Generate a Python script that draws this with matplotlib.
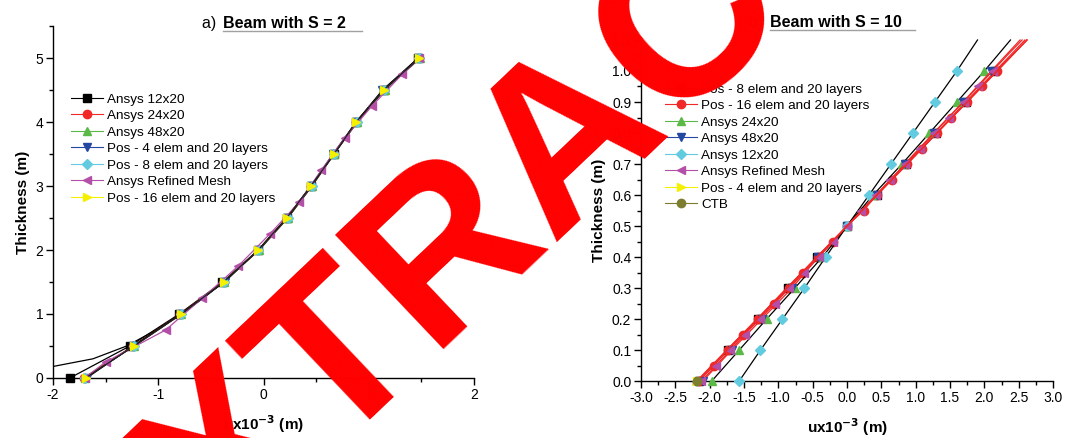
import matplotlib.pyplot as plt
from matplotlib.lines import Line2D
from matplotlib.ticker import MultipleLocator, FormatStrFormatter

plt.rcParams['font.family'] = ['Liberation Sans', 'DejaVu Sans']
plt.rcParams['axes.unicode_minus'] = False

# ---- a) beam with S = 2 ----
y_a = [0.0, 0.5, 1.0, 1.5, 2.0, 2.5, 3.0, 3.5, 4.0, 4.5, 5.0]
a_ansys12 = [-1.84, -1.27, -0.80, -0.39, -0.05, 0.22, 0.45, 0.67, 0.88, 1.14, 1.47]
a_ansys24 = [-1.71, -1.24, -0.79, -0.38, -0.05, 0.22, 0.45, 0.67, 0.88, 1.14, 1.48]
a_ansys48 = [-1.70, -1.23, -0.78, -0.38, -0.04, 0.23, 0.46, 0.67, 0.89, 1.15, 1.49]
a_pos4 = [-1.68, -1.24, -0.79, -0.37, -0.05, 0.22, 0.45, 0.66, 0.88, 1.13, 1.47]
a_pos8 = [-1.70, -1.23, -0.78, -0.38, -0.05, 0.23, 0.46, 0.67, 0.89, 1.14, 1.48]
a_pos16 = [-1.69, -1.23, -0.78, -0.38, -0.05, 0.22, 0.45, 0.67, 0.88, 1.14, 1.48]
y_a_ref = [0.0, 0.25, 0.75, 1.25, 1.75, 2.25, 2.75, 3.25, 3.75, 4.25, 4.75, 5.0]
a_refined = [-1.70, -1.50, -0.93, -0.58, -0.24, 0.06, 0.34, 0.55, 0.77, 1.03, 1.32, 1.48]
# unlabeled black curve near the bottom face
y_a_extra = [0.18, 0.30, 0.50, 0.75, 1.00, 1.25, 1.50]
a_extra = [-2.00, -1.62, -1.30, -1.02, -0.78, -0.57, -0.38]

# ---- b) beam with S = 10 ----
y_b = [0.0, 0.1, 0.2, 0.3, 0.4, 0.5, 0.6, 0.7, 0.8, 0.9, 1.0, 1.1]
y_b_fine = [0.0, 0.05, 0.1, 0.15, 0.2, 0.25, 0.3, 0.35, 0.4, 0.45, 0.5,
            0.55, 0.6, 0.65, 0.7, 0.75, 0.8, 0.85, 0.9, 0.95, 1.0, 1.05, 1.1]
b_pos8 = [-2.16, -1.73, -1.30, -0.86, -0.43, 0.0, 0.43, 0.86, 1.30, 1.73, 2.16, 2.59]
b_pos16 = [-2.15, -1.94, -1.73, -1.51, -1.29, -1.07, -0.85, -0.64, -0.42, -0.20, 0.0,
           0.24, 0.43, 0.65, 0.87, 1.09, 1.31, 1.52, 1.74, 1.96, 2.18, 2.40, 2.62]
b_ansys24 = [-1.97, -1.57, -1.17, -0.76, -0.36, 0.0, 0.38, 0.80, 1.20, 1.60, 2.00, 2.38]
b_ansys48 = [-2.10, -1.68, -1.24, -0.80, -0.42, 0.0, 0.44, 0.84, 1.26, 1.69, 2.10, 2.52]
b_ansys12 = [-1.57, -1.26, -0.94, -0.62, -0.31, 0.0, 0.32, 0.64, 0.96, 1.28, 1.60, 1.90]
b_refined = [-2.12, -1.91, -1.70, -1.49, -1.27, -1.05, -0.84, -0.62, -0.41, -0.20, 0.0,
             0.21, 0.42, 0.63, 0.85, 1.06, 1.27, 1.48, 1.70, 1.91, 2.12, 2.33, 2.55]
b_pos4 = [-2.18, -1.75, -1.31, -0.87, -0.44, 0.0, 0.43, 0.87, 1.31, 1.75, 2.18, 2.62]
b_ctb = [-2.19, -1.75, -1.31, -0.88, -0.44, 0.0, 0.44, 0.88, 1.31, 1.75, 2.19, 2.62]

BLACK = '#000000'
RED = '#f02828'
GREEN = '#5bb947'
BLUE = '#2447a2'
CYAN = '#62cbe0'
PURPLE = '#b44fa8'
YELLOW = '#f4f000'
OLIVE = '#7d7d30'

fig = plt.figure(figsize=(10.73, 4.38), dpi=100)
ax1 = fig.add_axes([0.0494, 0.137, 0.3924, 0.8036])
ax2 = fig.add_axes([0.5974, 0.130, 0.3840, 0.7787])

ms = 6
a_series = [
    ('Ansys 12x20', a_ansys12, y_a, BLACK, 's'),
    ('Ansys 24x20', a_ansys24, y_a, RED, 'o'),
    ('Ansys 48x20', a_ansys48, y_a, GREEN, '^'),
    ('Pos - 4 elem and 20 layers', a_pos4, y_a, BLUE, 'v'),
    ('Pos - 8 elem and 20 layers', a_pos8, y_a, CYAN, 'D'),
    ('Ansys Refined Mesh', a_refined, y_a_ref, PURPLE, '<'),
    ('Pos - 16 elem and 20 layers', a_pos16, y_a, YELLOW, '>'),
]
ax1.plot(a_extra, y_a_extra, color=BLACK, lw=0.9, zorder=2)
line_cols_a = [BLACK, RED, '#3a2a1a', BLACK, '#3a2a1a', PURPLE, '#202020']
handles_a = []
for (lab, xs, ys, c, m), lc in zip(a_series, line_cols_a):
    ax1.plot(xs, ys, color=lc, lw=0.9, marker=m, ms=ms if m != 'D' else 5,
             mfc=c, mec=c, zorder=3, clip_on=False)
    handles_a.append(Line2D([], [], color=c, lw=0.8, marker=m, ms=ms if m != 'D' else 5,
                            mfc=c, mec=c, label=lab))

b_series = [
    ('Pos - 8 elem and 20 layers', b_pos8, y_b, BLACK, 's', RED, 11),
    ('Pos - 16 elem and 20 layers', b_pos16, y_b_fine, RED, 'o', RED, 21),
    ('Ansys 24x20', b_ansys24, y_b, GREEN, '^', BLACK, 11),
    ('Ansys 48x20', b_ansys48, y_b, BLUE, 'v', RED, 11),
    ('Ansys 12x20', b_ansys12, y_b, CYAN, 'D', BLACK, 11),
    ('Ansys Refined Mesh', b_refined, y_b_fine, PURPLE, '<', RED, 21),
    ('Pos - 4 elem and 20 layers', b_pos4, y_b, YELLOW, '>', RED, 1),
    ('CTB', b_ctb, y_b, OLIVE, 'o', RED, 1),
]
handles_b = []
for lab, xs, ys, c, m, lc, nmark in b_series:
    size = ms if m != 'D' else 5
    ax2.plot(xs, ys, color=lc, lw=0.9, marker=m, ms=size, mfc=c, mec=c,
             markevery=slice(0, nmark), zorder=3, clip_on=False)
    handles_b.append(Line2D([], [], color=c, lw=0.8, marker=m, ms=size,
                            mfc=c, mec=c, label=lab))

for ax in (ax1, ax2):
    for s in ('top', 'right'):
        ax.spines[s].set_visible(False)
    ax.spines['left'].set_linewidth(1.0)
    ax.spines['bottom'].set_linewidth(1.0)
    ax.tick_params(which='major', direction='out', length=5, width=1, labelsize=10, pad=2)
    ax.tick_params(which='minor', direction='out', length=3, width=1)

ax1.set_xlim(-2, 2)
ax1.set_ylim(0, 5.5)
ax1.xaxis.set_major_locator(MultipleLocator(1))
ax1.xaxis.set_minor_locator(MultipleLocator(0.5))
ax1.yaxis.set_major_locator(MultipleLocator(1))
ax1.yaxis.set_minor_locator(MultipleLocator(0.5))

ax2.set_xlim(-3, 3)
ax2.set_ylim(0, 1.1)
ax2.xaxis.set_major_locator(MultipleLocator(0.5))
ax2.xaxis.set_minor_locator(MultipleLocator(0.25))
ax2.yaxis.set_major_locator(MultipleLocator(0.1))
ax2.yaxis.set_minor_locator(MultipleLocator(0.05))
ax2.xaxis.set_major_formatter(FormatStrFormatter('%.1f'))
ax2.yaxis.set_major_formatter(FormatStrFormatter('%.1f'))

for ax in (ax1, ax2):
    ax.set_ylabel('Thickness (m)', fontsize=11, fontweight='bold', labelpad=4)
    ax.set_xlabel(r'ux10$^{\mathbf{-3}}$ (m)', fontsize=11, fontweight='bold', labelpad=8)

leg_kw = dict(frameon=False, fontsize=9.7, handlelength=2.4, handletextpad=0.3,
              labelspacing=0.3, borderpad=0, borderaxespad=0, loc='upper left')
ax1.legend(handles=handles_a, bbox_to_anchor=(0.043, 0.809), **leg_kw)
ax2.legend(handles=handles_b, bbox_to_anchor=(0.058, 0.873), **leg_kw)

# titles with underlined bold part
W, H = 1073, 438
for split_px, base_px, pre, bold, ul_end in [(221, 28, 'a) ', 'Beam with S = 2', 362),
                                             (768, 27, 'b) ', 'Beam with S = 10', 915)]:
    fig.text(split_px / W, 1 - base_px / H, pre, ha='right', va='baseline', fontsize=11.5)
    fig.text(split_px / W + 0.002, 1 - base_px / H, bold, ha='left', va='baseline',
             fontsize=11.5, fontweight='bold')
    fig.add_artist(Line2D([(split_px + 2) / W, ul_end / W], [1 - (base_px + 3) / H] * 2,
                          color='#a0a0a0', lw=1))

# watermark
fig.text(0.4268, 0.452, 'EXTRACT', rotation=43.5, rotation_mode='anchor', ha='center',
         va='center', fontsize=165, fontweight='bold', color='#ff0000', zorder=10)

fig.savefig('out.png', dpi=100)
